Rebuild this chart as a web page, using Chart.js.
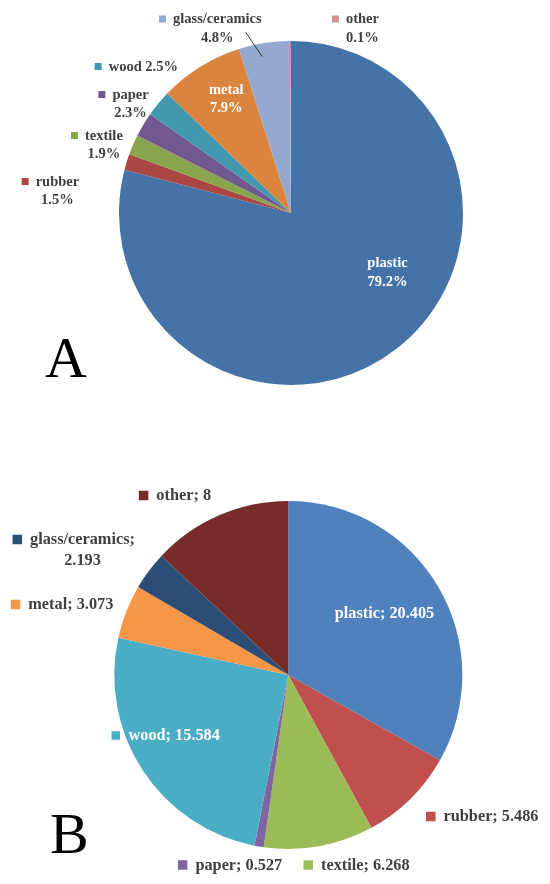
<!DOCTYPE html>
<html lang="en">
<head>
  <meta charset="UTF-8">
  <script src="https://cdn.jsdelivr.net/npm/chart.js@4.4.1/dist/chart.umd.min.js"></script>
  <title>Waste composition pies</title>
  <style>
    html, body { margin: 0; padding: 0; background: #fff; }
    canvas { display: block; }
  </style>
</head>
<body>
  <canvas id="chartA" width="550" height="442"></canvas>
  <canvas id="chartB" width="550" height="442"></canvas>

  <script>
    // 01 data -- chart A (share in %)
    const labelsA = ['plastic', 'rubber', 'textile', 'paper', 'wood', 'metal', 'glass/ceramics', 'other'];
    const valuesA = [79.2, 1.5, 1.9, 2.3, 2.5, 7.9, 4.8, 0.1];
    const colorsA = ['#4572A7', '#AA4643', '#89A54E', '#71588F', '#4198AF', '#DB843D', '#93A9CF', '#D19392'];

    // 02 data -- chart B
    const labelsB = ['plastic', 'rubber', 'textile', 'paper', 'wood', 'metal', 'glass/ceramics', 'other'];
    const valuesB = [20.405, 5.486, 6.268, 0.527, 15.584, 3.073, 2.193, 8];
    const colorsB = ['#4F81BD', '#C0504D', '#9BBB59', '#8064A2', '#4BACC6', '#F79646', '#2C4D75', '#772C2A'];

    const TEXT = '#3F3F3F';

    // label placement, page pixels: cx = text centre, y = first line centre
    const layoutA = [
      {i: 0, cx: 387.5, y: 263.7, sep: '\n', white: true},
      {i: 1, cx: 57.4, y: 182, sep: '\n', marker: true},
      {i: 2, cx: 103.9, y: 136, sep: '\n', marker: true},
      {i: 3, cx: 130.5, y: 95, sep: '\n', marker: true},
      {i: 4, cx: 143.3, y: 67, sep: ' ', marker: true},
      {i: 5, cx: 226.3, y: 90, sep: '\n', white: true},
      {i: 6, cx: 217.3, y: 19.5, sep: '\n', marker: true, leader: [245.7, 32.3, 262.3, 56.7]},
      {i: 7, cx: 362.4, y: 19.5, sep: '\n', marker: true}
    ];
    const layoutB = [
      {i: 0, cx: 384.5, y: 613.3, sep: '; ', white: true},
      {i: 1, cx: 491, y: 817, sep: '; ', marker: true},
      {i: 2, cx: 365.3, y: 865.5, sep: '; ', marker: true},
      {i: 3, cx: 238.8, y: 865.5, sep: '; ', marker: true},
      {i: 4, cx: 174.2, y: 736, sep: '; ', marker: true, white: true},
      {i: 5, cx: 70.8, y: 605, sep: '; ', marker: true},
      {i: 6, cx: 82.5, y: 540, sep: ';\n', marker: true},
      {i: 7, cx: 183.7, y: 496, sep: '; ', marker: true}
    ];

    // 03 plugin -- data labels with a small coloured square, plus the panel letter
    const pieLabels = {
      id: 'pieLabels',
      afterDraw(chart, args, opts) {
        const ctx = chart.ctx;
        const names = chart.data.labels;
        const vals = chart.data.datasets[0].data;
        const cols = chart.data.datasets[0].backgroundColor;
        const toY = y => y - opts.offsetTop;

        ctx.save();
        ctx.font = `bold ${opts.fontSize}px "Liberation Serif", serif`;
        ctx.textBaseline = 'middle';
        ctx.textAlign = 'center';

        opts.layout.forEach(l => {
          const lines = (names[l.i] + l.sep + opts.format(vals[l.i])).split('\n');
          const y0 = toY(l.y);
          ctx.fillStyle = l.white ? '#ffffff' : TEXT;
          lines.forEach((t, k) => ctx.fillText(t, l.cx, y0 + k * opts.lineHeight));

          if (l.marker) {
            const w = ctx.measureText(lines[0]).width;
            const s = opts.marker;
            const x = l.cx - w / 2 - opts.gap - s;
            ctx.fillStyle = cols[l.i];
            ctx.fillRect(x, y0 - s / 2 - 0.5, s, s);
            if (l.white) {
              ctx.strokeStyle = '#ffffff';
              ctx.lineWidth = 1;
              ctx.strokeRect(x, y0 - s / 2 - 0.5, s, s);
            }
          }
          if (l.leader) {
            ctx.strokeStyle = '#333333';
            ctx.lineWidth = 1;
            ctx.beginPath();
            ctx.moveTo(l.leader[0], toY(l.leader[1]));
            ctx.lineTo(l.leader[2], toY(l.leader[3]));
            ctx.stroke();
          }
        });

        // panel letter
        ctx.fillStyle = '#000000';
        ctx.font = '58px "Liberation Serif", serif';
        ctx.textAlign = 'left';
        ctx.textBaseline = 'alphabetic';
        ctx.fillText(opts.letter[0], opts.letter[1], toY(opts.letter[2]));
        ctx.restore();
      }
    };

    // 04 function createPie()
    function createPie(canvasId, labels, values, colors, padding, labelOpts) {
      const ctx = document.getElementById(canvasId).getContext('2d');
      return new Chart(ctx, {
        type: 'pie',
        data: {
          labels: labels,
          datasets: [{
            data: values,
            backgroundColor: colors,
            borderWidth: 0,
            hoverOffset: 0
          }]
        },
        options: {
          responsive: false,
          animation: false,
          layout: { padding: padding },
          plugins: {
            legend: { display: false },
            tooltip: { enabled: false },
            pieLabels: labelOpts
          }
        },
        plugins: [pieLabels]
      });
    }

    /* 00 main program */
    createPie('chartA', labelsA, valuesA, colorsA,
      {left: 119, right: 87, top: 41, bottom: 57},
      {
        offsetTop: 0, layout: layoutA, fontSize: 14.5, lineHeight: 18.7, marker: 7, gap: 7,
        format: v => v.toFixed(1) + '%', letter: ['A', 45, 377]
      });

    createPie('chartB', labelsB, valuesB, colorsB,
      {left: 114.3, right: 87.7, top: 59, bottom: 35},
      {
        offsetTop: 442, layout: layoutB, fontSize: 16.3, lineHeight: 21, marker: 9.5, gap: 8,
        format: v => String(v), letter: ['B', 50, 853]
      });
  </script>
</body>
</html>
